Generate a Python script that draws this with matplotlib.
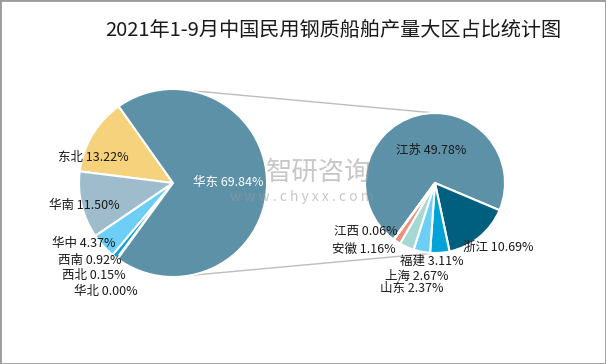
import matplotlib
matplotlib.use("Agg")
import matplotlib.pyplot as plt
from matplotlib.patches import Rectangle

plt.rcParams['font.family'] = ['Noto Sans CJK SC', 'DejaVu Sans']

# ---- data ----
title = "2021年1-9月中国民用钢质船舶产量大区占比统计图"
region_names = ["东北", "华南", "华中", "西南", "西北", "华北", "华东"]
region_values = [13.22, 11.50, 4.37, 0.92, 0.15, 0.00, 69.84]
region_colors = ["#F5D27B", "#9EBCCB", "#6DCFF6", "#0AA0D5", "#1F7FB0", "#5C91A8", "#5C91A8"]

prov_names = ["江苏", "浙江", "福建", "上海", "山东", "安徽", "江西"]
prov_values = [49.78, 10.69, 3.11, 2.67, 2.37, 1.16, 0.06]
prov_colors = ["#5C91A8", "#005F7F", "#00A2D8", "#6DCFF6", "#A6D8D3", "#F0907A", "#E8C468"]

# ---- layout (pixel coords, y measured from top) ----
W, H = 606, 364
left_c, left_r = (173, 183), 94
right_c, right_r = (435, 183), 70
region_label_pos = [(93, 157), (84, 205), (84, 244), (90, 260), (94, 276), (106, 292), (228, 182)]
prov_label_pos = [(431, 150), (498, 247), (432, 261), (417, 276), (412, 288), (364, 249), (366, 232)]

fig = plt.figure(figsize=(W / 100, H / 100), dpi=100)
ax = fig.add_axes([0, 0, 1, 1])

def py(y):
    return H - y

# connector lines (behind pies)
lc = '#BDBDBD'
ax.plot([left_c[0], right_c[0]], [py(left_c[1] - left_r), py(right_c[1] - right_r)],
        color=lc, lw=1, zorder=1)
ax.plot([left_c[0], right_c[0]], [py(left_c[1] + left_r), py(right_c[1] + right_r)],
        color=lc, lw=1, zorder=1)

wp = dict(edgecolor='white', linewidth=1.5)
ax.pie(region_values, colors=region_colors, startangle=125.3, counterclock=True,
       center=(left_c[0], py(left_c[1])), radius=left_r, wedgeprops=wp, frame=True)
ax.pie(prov_values, colors=prov_colors, startangle=233.7, counterclock=False,
       center=(right_c[0], py(right_c[1])), radius=right_r, wedgeprops=wp, frame=True)
ax.set_xlim(0, W)
ax.set_ylim(0, H)
ax.set_aspect('equal')
ax.axis('off')

fs = 9
for name, v, (x, y) in zip(region_names, region_values, region_label_pos):
    color = 'white' if name == "华东" else '#1a1a1a'
    ax.text(x, py(y), f"{name} {v:.2f}%", ha='center', va='center', fontsize=fs,
            color=color, zorder=5)
for name, v, (x, y) in zip(prov_names, prov_values, prov_label_pos):
    ax.text(x, py(y), f"{name} {v:.2f}%", ha='center', va='center', fontsize=fs,
            color='#1a1a1a', zorder=5)

# watermark
ax.text(319, py(172), "智研咨询", ha='center', va='center', fontsize=19,
        color='#9a9a9a', alpha=0.55, zorder=4)
ax.text(302, py(197), "w w w . c h y x x . c o m", ha='center', va='center', fontsize=10,
        color='#9a9a9a', alpha=0.55, zorder=4)

fig.text(333 / W, 1 - 30 / H, title, ha='center', va='center', fontsize=14.5,
         color='#1a1a1a')

fig.patches.append(Rectangle((0, 0), 1, 1, transform=fig.transFigure, fill=False,
                             edgecolor='#9a9a9a', linewidth=2))

fig.savefig("out.png", dpi=100)
